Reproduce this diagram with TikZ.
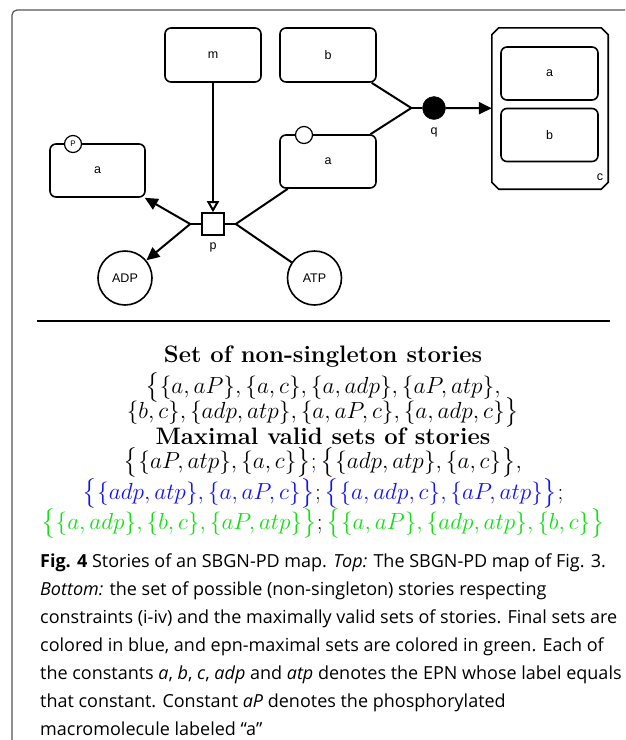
\RequirePackage{fix-cm}
\documentclass[tikz,border=0pt]{standalone}
\usepackage{amsmath}
\usepackage{fontspec}
\usetikzlibrary{positioning}
\usetikzlibrary{arrows.meta}
\newfontfamily\sbgnfont{Liberation Sans}
\newfontfamily\capfont{Open Sans}
\definecolor{framegray}{HTML}{555555}
\definecolor{finalblue}{HTML}{1414F0}
\definecolor{epngreen}{HTML}{14E014}

\begin{document}
\begin{tikzpicture}[x=1pt,y=-1pt,
    epn/.style={draw,line width=1.6pt,rounded corners=6pt,minimum width=96pt,minimum height=54pt,inner sep=0pt},
    smallmol/.style={draw,line width=1.6pt,circle,minimum size=54pt,inner sep=0pt},
    statevar/.style={draw,line width=1.2pt,circle,fill=white,minimum size=17pt,inner sep=0pt},
    process/.style={draw,line width=1.6pt,minimum size=22pt,inner sep=0pt},
    assoc/.style={draw,circle,fill=black,minimum size=23pt,inner sep=0pt},
    cplx/.style={minimum width=116pt,minimum height=161pt,inner sep=0pt},
    mathline/.style={anchor=base,inner sep=0pt,font=\fontsize{23.3}{28}\selectfont},
    capline/.style={anchor=base west,inner sep=0pt,font=\capfont\fontsize{18}{28}\selectfont},
    every node/.append style={font=\sbgnfont\fontsize{12.5}{14}\selectfont}]
        \fill[white] (0,0) rectangle (625,740);
        \useasboundingbox (0,0) rectangle (625,740);
        \draw[framegray,line width=1.2pt,rounded corners=5pt] (12,740) -- (12,10) -- (625,10);

        \node[epn] (m) at (213,55) {m};
        \node[epn] (b) at (328,55) {b};
        \node[epn,minimum height=53pt] (a) at (328,161.5) {a};
        \node[epn,minimum width=95pt,minimum height=53pt] (aP) at (97.5,170.5) {a};
        \node[statevar] (sva) at (304,135) {};
        \node[statevar,font=\sbgnfont\fontsize{8}{9}\selectfont] (svP) at (73,144) {P};
        \node[process] (p) at (213,224) {};
        \node (plab) at (213,247) {p};
        \node[assoc] (q) at (434,108) {};
        \node (qlab) at (434,132) {q};
        \node[cplx] (c) at (550,108.5) {};
        \draw[line width=1.6pt] ([xshift=7pt]c.north west) -- ([xshift=-7pt]c.north east)
            -- ([yshift=-7pt]c.north east) -- ([yshift=7pt]c.south east)
            -- ([xshift=-7pt]c.south east) -- ([xshift=7pt]c.south west)
            -- ([yshift=7pt]c.south west) -- ([yshift=-7pt]c.north west) -- cycle;
        \node[epn,minimum width=97pt,minimum height=53pt] (ca) at (549.5,73.5) {a};
        \node[epn,minimum width=97pt,minimum height=53pt] (cb) at (549.5,135) {b};
        \node (clab) at (600,177) {c};
        \node[smallmol] (adp) at (125,278) {ADP};
        \node[smallmol] (atp) at (314.5,278) {ATP};

        \coordinate (pout) at ([xshift=-11pt]p.west);
        \coordinate (pin) at ([xshift=11pt]p.east);
        \coordinate (qin) at ([xshift=-11pt]q.west);

        \begin{scope}[every edge/.style={draw=black,line width=2pt}]
            \path [-] (p.west) edge (pout);
            \path [-] (p.east) edge (pin);
            \path [-] (q.west) edge (qin);
            \path [-{Triangle[length=13pt,width=12pt]}] (pout) edge (aP);
            \path [-{Triangle[length=13pt,width=12pt]}] (pout) edge (adp);
            \path [-] (pin) edge (a);
            \path [-] (pin) edge (atp);
            \path [-{Triangle[open,fill=white,length=11pt,width=12pt]}] (m) edge (p);
            \path [-] (qin) edge (b);
            \path [-] (qin) edge (a);
            \path [-{Triangle[length=13pt,width=12pt]}] (q) edge (c);
        \end{scope}

        \draw[line width=2pt] (37,321) -- (610,321);

        \node[mathline,font=\fontsize{23.8}{28}\selectfont] (settitle) at (323,362) {\textbf{Set of non-singleton stories}};
        \node[mathline] (set1) at (323,393) {$\big\{\{a,aP\},\{a,c\},\{a,adp\},\{aP,atp\},$};
        \node[mathline] (set2) at (323,418) {$\{b,c\},\{adp,atp\},\{a,aP,c\},\{a,adp,c\}\big\}$};
        \node[mathline,font=\fontsize{23.8}{28}\selectfont] (maxtitle) at (323,444) {\textbf{Maximal valid sets of stories}};
        \node[mathline] (max1) at (323,468) {$\big\{\{aP,atp\},\{a,c\}\big\};\big\{\{adp,atp\},\{a,c\}\big\},$};
        \node[mathline] (max2) at (323,499) {$\textcolor{finalblue}{\big\{\{adp,atp\},\{a,aP,c\}\big\}};\textcolor{finalblue}{\big\{\{a,adp,c\},\{aP,atp\}\big\}};$};
        \node[mathline] (max3) at (323,529) {$\textcolor{epngreen}{\big\{\{a,adp\},\{b,c\},\{aP,atp\}\big\}};\textcolor{epngreen}{\big\{\{a,aP\},\{adp,atp\},\{b,c\}\big\}}$};

        \node[capline] (cap1) at (40,567) {\textbf{Fig. 4} Stories of an SBGN-PD map. \textit{Top:} The SBGN-PD map of Fig. 3.};
        \node[capline] (cap2) at (40,595) {\textit{Bottom:} the set of possible (non-singleton) stories respecting};
        \node[capline] (cap3) at (40,623) {constraints (i-iv) and the maximally valid sets of stories. Final sets are};
        \node[capline] (cap4) at (40,651) {colored in blue, and epn-maximal sets are colored in green. Each of};
        \node[capline] (cap5) at (40,679) {the constants \textit{a}, \textit{b}, \textit{c}, \textit{adp} and \textit{atp} denotes the EPN whose label equals};
        \node[capline] (cap6) at (40,707) {that constant. Constant \textit{aP} denotes the phosphorylated};
        \node[capline] (cap7) at (40,735) {macromolecule labeled “a”};
\end{tikzpicture}
\end{document}
